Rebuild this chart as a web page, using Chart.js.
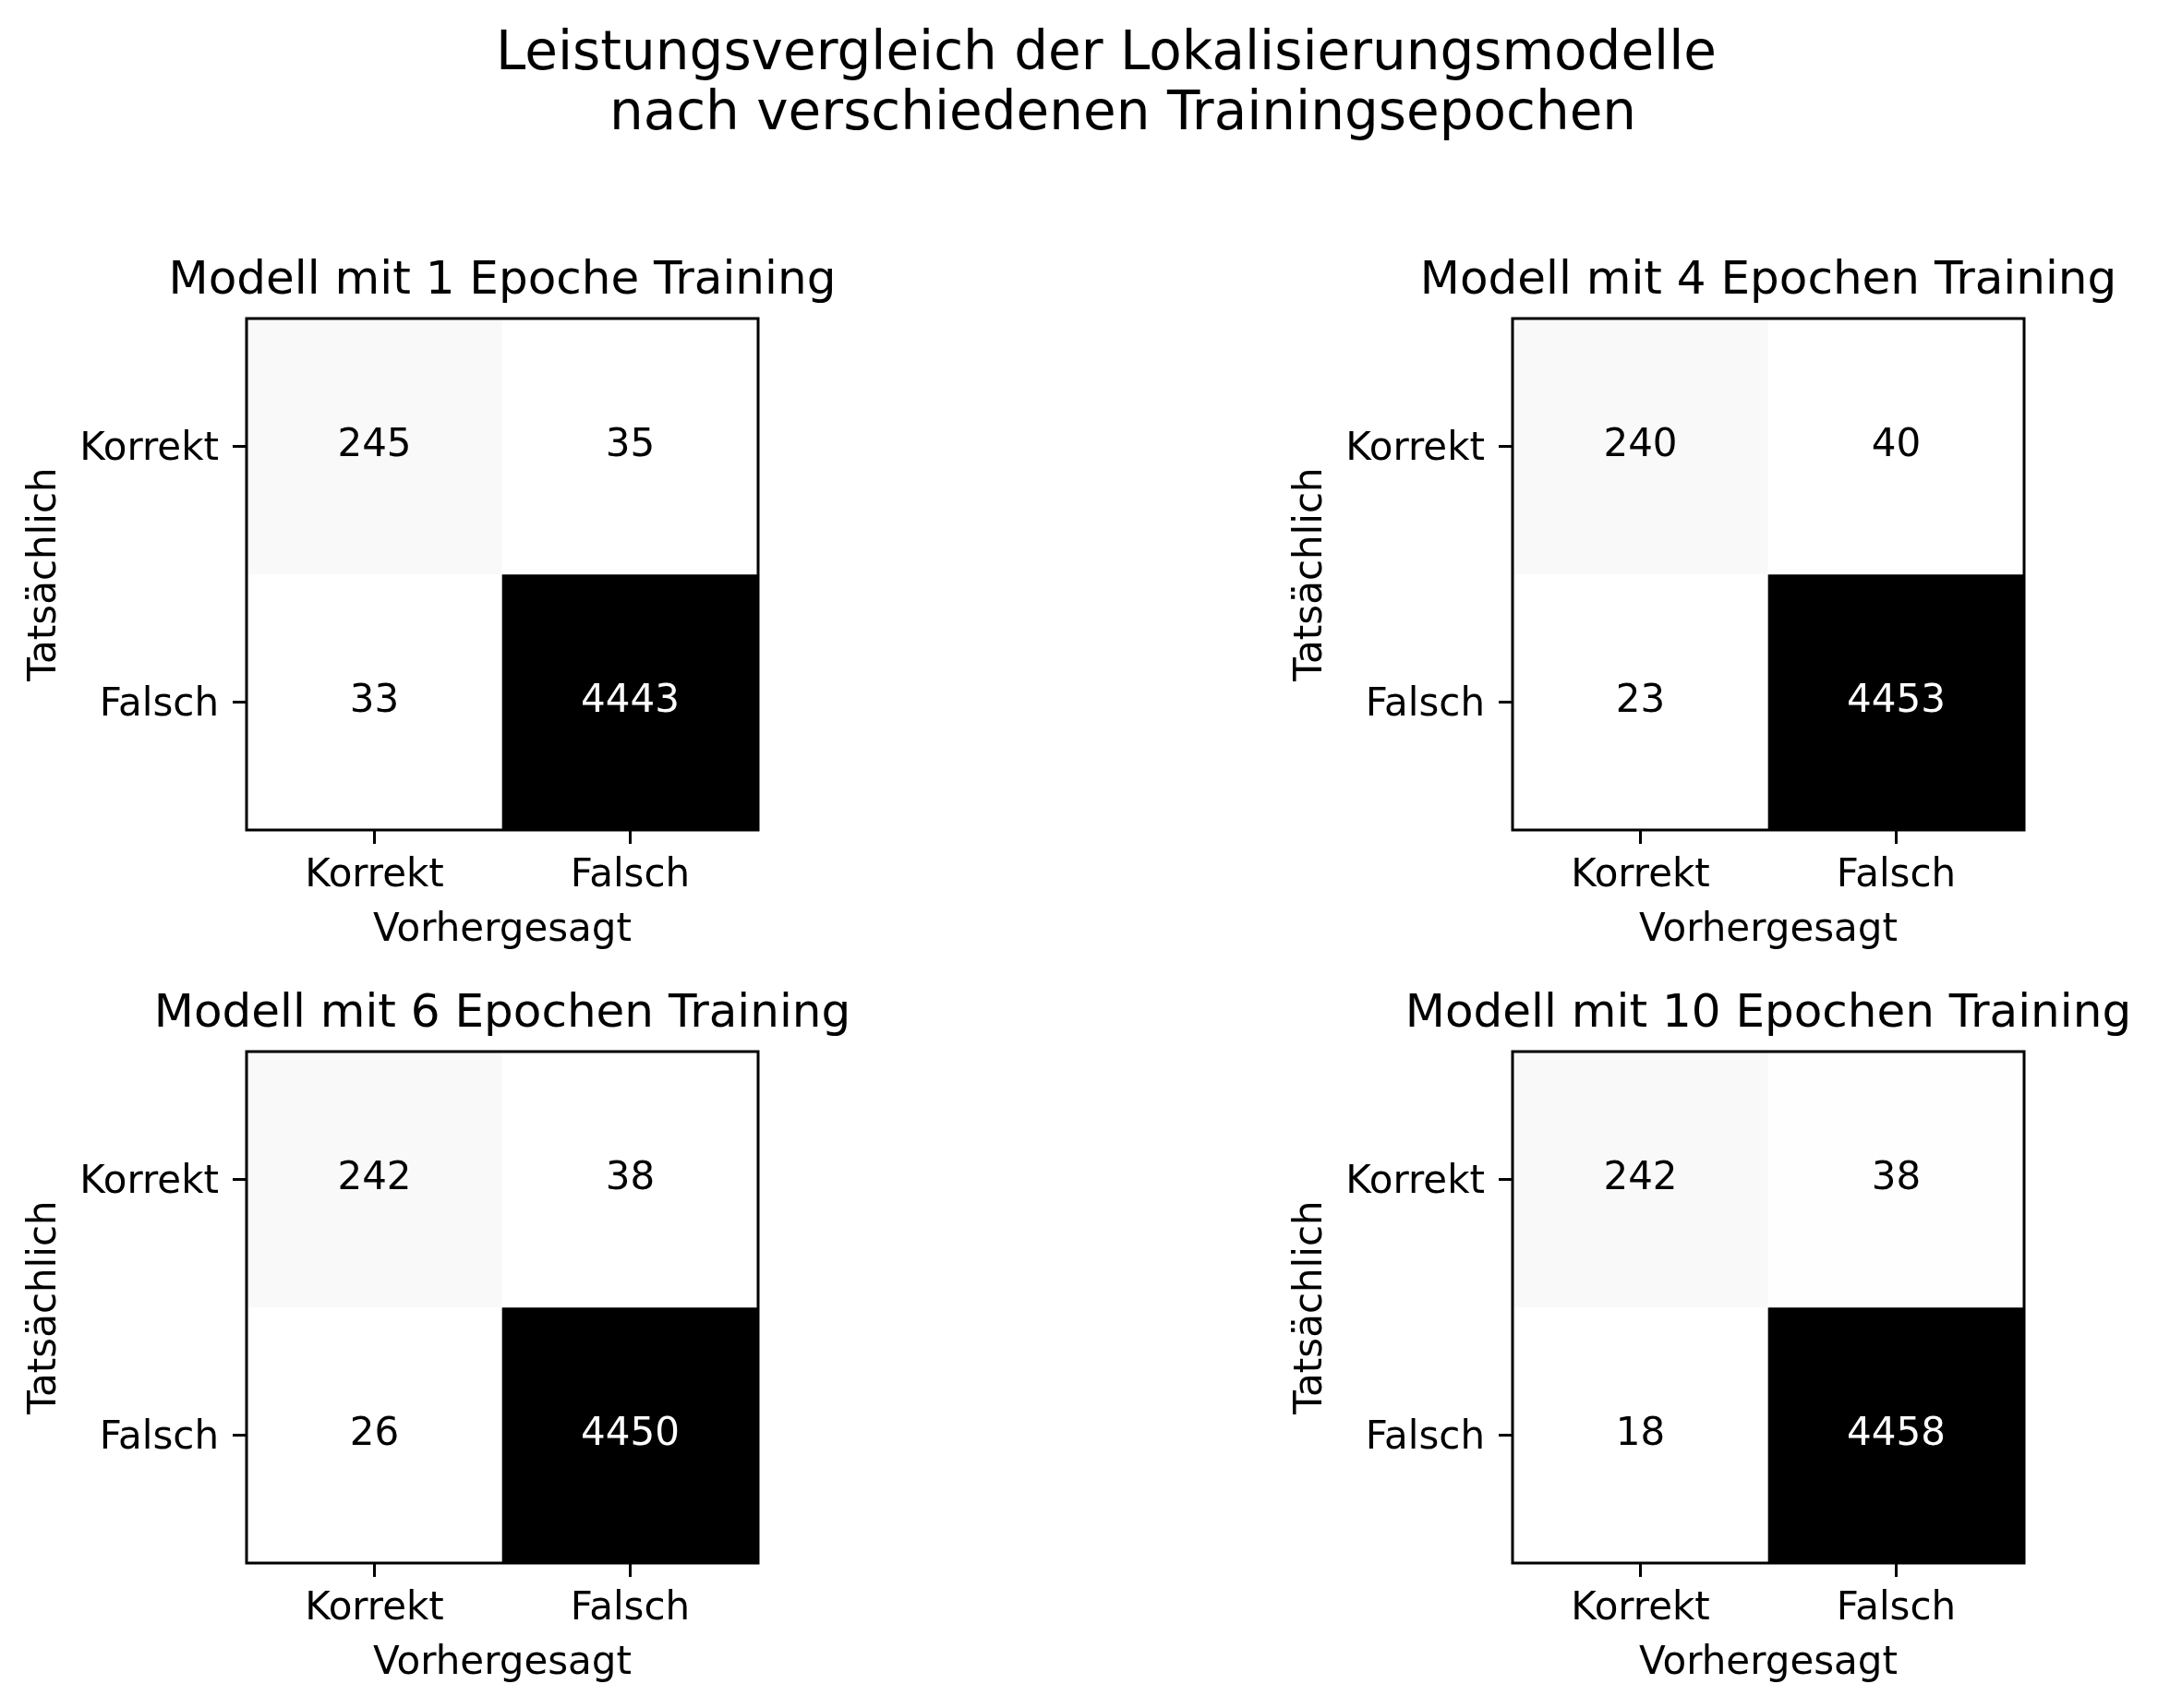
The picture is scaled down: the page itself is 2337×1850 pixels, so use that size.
<!DOCTYPE html>
<html>
<head>
<meta charset="UTF-8" />
<script src="https://cdn.jsdelivr.net/npm/chart.js@4"></script>
<style>
  html, body { margin: 0; padding: 0; background: #fff; }
  body { width: 2337px; height: 1850px; position: relative; overflow: hidden; font-family: "DejaVu Sans", sans-serif; }
  .suptitle { position: absolute; width: 2000px; text-align: center; font-size: 58px; line-height: 58px; color: #000; white-space: nowrap; }
  canvas { position: absolute; }
</style>
</head>
<body>
  <div class="suptitle" style="left:198px; top:26px">Leistungsvergleich der Lokalisierungsmodelle</div>
  <div class="suptitle" style="left:216px; top:91px">nach verschiedenen Trainingsepochen</div>
  <canvas id="cm1" width="1088" height="758" style="left:0px; top:275px"></canvas>
  <canvas id="cm2" width="1088" height="758" style="left:1371px; top:275px"></canvas>
  <canvas id="cm3" width="1088" height="758" style="left:0px; top:1069px"></canvas>
  <canvas id="cm4" width="1088" height="758" style="left:1371px; top:1069px"></canvas>

<script>
// Achsen-Kategorien
const actualLabels = ["Korrekt", "Falsch"];
const predictedLabels = ["Korrekt", "Falsch"];

// Titel der Teilplots
const modelTitles = [
  "Modell mit 1 Epoche Training",
  "Modell mit 4 Epochen Training",
  "Modell mit 6 Epochen Training",
  "Modell mit 10 Epochen Training",
];

// Konfusionsmatrizen (Zeile = tatsächlich, Spalte = vorhergesagt)
const epoch1 = [[245, 35], [33, 4443]];
const epoch4 = [[240, 40], [23, 4453]];
const epoch6 = [[242, 38], [26, 4450]];
const epoch10 = [[242, 38], [18, 4458]];

const matrices = [epoch1, epoch4, epoch6, epoch10];

Chart.defaults.font.family = "'DejaVu Sans', sans-serif";
Chart.defaults.color = "#000";

// Farbskala "Greys" (wie matplotlib)
const greys = [255, 240, 217, 189, 150, 115, 82, 37, 0];
function greyColor(t) {
  t = Math.max(0, Math.min(1, t));
  const p = t * (greys.length - 1);
  const i = Math.min(Math.floor(p), greys.length - 2);
  const g = Math.round(greys[i] + (greys[i + 1] - greys[i]) * (p - i));
  return `rgb(${g},${g},${g})`;
}

// Zahlen in die Zellen schreiben + Rahmen zeichnen
const cellTextPlugin = {
  id: "cellText",
  afterDatasetsDraw(chart) {
    const { ctx, scales } = chart;
    const m = chart.config.options.plugins.cellText.matrix;
    const flat = m.flat();
    const lo = Math.min(...flat), hi = Math.max(...flat);
    const thresh = (lo + hi) / 2;
    ctx.save();
    ctx.font = "42px 'DejaVu Sans'";
    ctx.textAlign = "center";
    ctx.textBaseline = "middle";
    m.forEach((row, r) => {
      row.forEach((v, c) => {
        const x = scales.x.getPixelForValue(c);
        const y = scales.y.getPixelForValue(r);
        ctx.fillStyle = v > thresh ? "#fff" : "#000";
        ctx.fillText(String(v), x, y);
      });
    });
    ctx.restore();
  },
  afterDraw(chart) {
    const { ctx, chartArea } = chart;
    ctx.save();
    ctx.strokeStyle = "#000";
    ctx.lineWidth = 3;
    ctx.strokeRect(chartArea.left, chartArea.top, chartArea.right - chartArea.left, chartArea.bottom - chartArea.top);
    ctx.restore();
  },
};

matrices.forEach((m, k) => {
  const flat = m.flat();
  const lo = Math.min(...flat), hi = Math.max(...flat);

  const datasets = actualLabels.map((label, r) => ({
    label: label,
    data: predictedLabels.map(() => [r - 0.5, r + 0.5]),
    backgroundColor: m[r].map((v) => greyColor((v - lo) / (hi - lo))),
    borderWidth: 0,
    barPercentage: 1,
    categoryPercentage: 1,
  }));

  new Chart(document.getElementById("cm" + (k + 1)), {
    type: "bar",
    data: { labels: predictedLabels, datasets },
    plugins: [cellTextPlugin],
    options: {
      responsive: false,
      animation: false,
      devicePixelRatio: 1,
      layout: { padding: 0 },
      plugins: {
        legend: { display: false },
        tooltip: { enabled: false },
        title: {
          display: true,
          text: modelTitles[k],
          color: "#000",
          font: { size: 50, weight: "normal" },
          padding: { top: 0, bottom: 10 },
        },
        cellText: { matrix: m },
      },
      scales: {
        x: {
          stacked: true,
          grid: { offset: false, drawOnChartArea: false, drawTicks: true, tickLength: 15, color: "#000", lineWidth: 3 },
          border: { display: false },
          ticks: { font: { size: 42 }, color: "#000", padding: 10, maxRotation: 0 },
          title: { display: true, text: "Vorhergesagt", font: { size: 42 }, color: "#000", padding: { top: 0, bottom: 0 } },
          afterFit: (s) => { s.height = 134; },
        },
        y: {
          type: "linear",
          reverse: true,
          min: -0.5,
          max: 1.5,
          grid: { drawOnChartArea: false, drawTicks: true, tickLength: 15, color: "#000", lineWidth: 3 },
          border: { display: false },
          afterBuildTicks: (s) => { s.ticks = actualLabels.map((_, i) => ({ value: i })); },
          ticks: {
            font: { size: 42 },
            color: "#000",
            padding: 15,
            labelOffset: 4,
            callback: (v) => actualLabels[v] ?? "",
          },
          title: { display: true, text: "Tatsächlich", font: { size: 42 }, color: "#000", padding: { top: 24, bottom: 0 } },
          afterFit: (s) => { s.width = 267; },
        },
        // leere rechte Achse, damit der Titel über der Matrix zentriert ist
        yRight: {
          type: "linear",
          position: "right",
          display: true,
          grid: { display: false },
          border: { display: false },
          ticks: { display: false },
          afterFit: (s) => { s.width = 267; },
        },
      },
    },
  });
});
</script>
</body>
</html>
